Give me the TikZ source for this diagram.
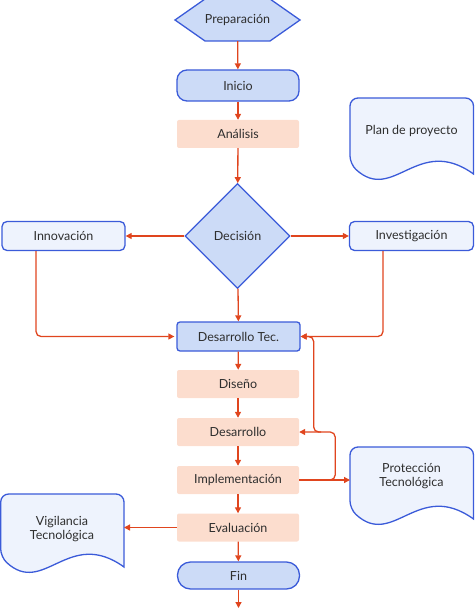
\documentclass[tikz,border=0pt]{standalone}
\usepackage{fontspec}
\setmainfont{Lato}
\usetikzlibrary{arrows.meta,shapes.geometric}
\definecolor{bl}{HTML}{3B5BD9}
\definecolor{fillA}{HTML}{CCDBF7}
\definecolor{fillB}{HTML}{EEF3FD}
\definecolor{peach}{HTML}{FCDDCE}
\definecolor{arr}{HTML}{E0451E}
\definecolor{txt}{HTML}{2E2E2E}
\newcommand\docshape[4]{% x1 x2 ytop ymid
  \draw[doc] (#2,{#4+5}) [rounded corners=8pt] -- (#2,#3) -- (#1,#3) -- (#1,{#4-5}) [sharp corners]
    .. controls ({#1+0.35*(#2-#1)},{#4+35}) and ({#1+0.55*(#2-#1)},{#4-35}) .. (#2,{#4+5}) -- cycle;}
\begin{document}
\begin{tikzpicture}[x=1pt,y=-1pt, font=\fontsize{12.5}{14.5}\selectfont, text=txt,
 every node/.style={inner sep=0pt, align=center},
 term/.style={draw=bl, fill=fillA, line width=1.3pt, rounded corners=10pt, minimum width=122pt, minimum height=31pt},
 proc/.style={fill=peach, rounded corners=2pt, minimum width=122pt, minimum height=28pt},
 tec/.style={draw=bl, fill=fillA, line width=1.3pt, rounded corners=3pt, minimum width=123pt, minimum height=29pt},
 side/.style={draw=bl, fill=fillB, line width=1.3pt, rounded corners=5pt, minimum width=123pt, minimum height=29pt},
 doc/.style={draw=bl, fill=fillB, line width=1.3pt},
 link/.style={draw=arr, line width=1.3pt, -{Triangle[length=6pt,width=6pt]}, rounded corners=5pt},
]
\useasboundingbox (0,0) rectangle (474,609);
% Preparacion hexagon
\draw[doc, fill=fillA] (175,20) -- (205,-1) -- (270,-1) -- (300,20) -- (270,41) -- (205,41) -- cycle;
\node[minimum width=125pt, minimum height=42pt] (prep) at (237.5,20) {Preparación};
\node[term] (inicio) at (238,85.5) {Inicio};
\node[proc] (analisis) at (238,134) {Análisis};
\node[diamond, draw=bl, fill=fillA, line width=1.3pt, minimum width=105pt, minimum height=105pt] (dec) at (237.5,236) {Decisión};
\node[side] (innov) at (63.5,236) {Innovación};
\node[side, minimum width=124pt] (inves) at (411.5,236) {Investigación};
\node[tec] (destec) at (238.5,336.5) {Desarrollo Tec.};
\node[proc] (diseno) at (238,384) {Diseño};
\node[proc] (desa) at (238,432) {Desarrollo};
\node[proc] (impl) at (238,480) {Implementación};
\node[proc] (eval) at (238,527.5) {Evaluación};
\node[term, rounded corners=13pt, minimum height=27pt] (fin) at (238.5,575.5) {Fin};
% documents
\docshape{350}{473.5}{98}{169}
\node (plan) at (411.5,131) {Plan de proyecto};
\docshape{350}{473.5}{447}{514}
\node (prot) at (411.5,476) {Protección\\Tecnológica};
\docshape{0.7}{124}{494}{562}
\node (vig) at (62,529) {Vigilancia\\Tecnológica};
\coordinate (protin) at (350,480);
\coordinate (vigin) at (124,527.5);
\coordinate (out) at (238.5,608);
% connectors
\draw[link] (prep) -- (inicio);
\draw[link] (inicio) -- (analisis);
\draw[link] (analisis) -- (dec);
\draw[link] (dec.west) -- (innov.east);
\draw[link] (dec.east) -- (inves.west);
\draw[link] (dec) -- (destec);
\draw[link, shorten >=2pt] ([xshift=-27.5pt]innov.south) |- (destec.west);
\draw[link] ([xshift=-28.5pt]inves.south) |- (destec.east);
\draw[link] (impl.east) -- ++(36,0) |- (desa.east);
\draw[link] ([xshift=22pt]desa.east) -| ([xshift=13pt]destec.east) -- (destec.east);
\draw[link] (impl.east) -- (protin);
\draw[link] (eval.west) -- (vigin);
\draw[link] (diseno) -- (desa);
\draw[link] (destec) -- (diseno);
\draw[link] (desa) -- (impl);
\draw[link] (impl) -- (eval);
\draw[link] (eval) -- (fin);
\draw[link] (fin) -- (out);
\end{tikzpicture}
\end{document}
